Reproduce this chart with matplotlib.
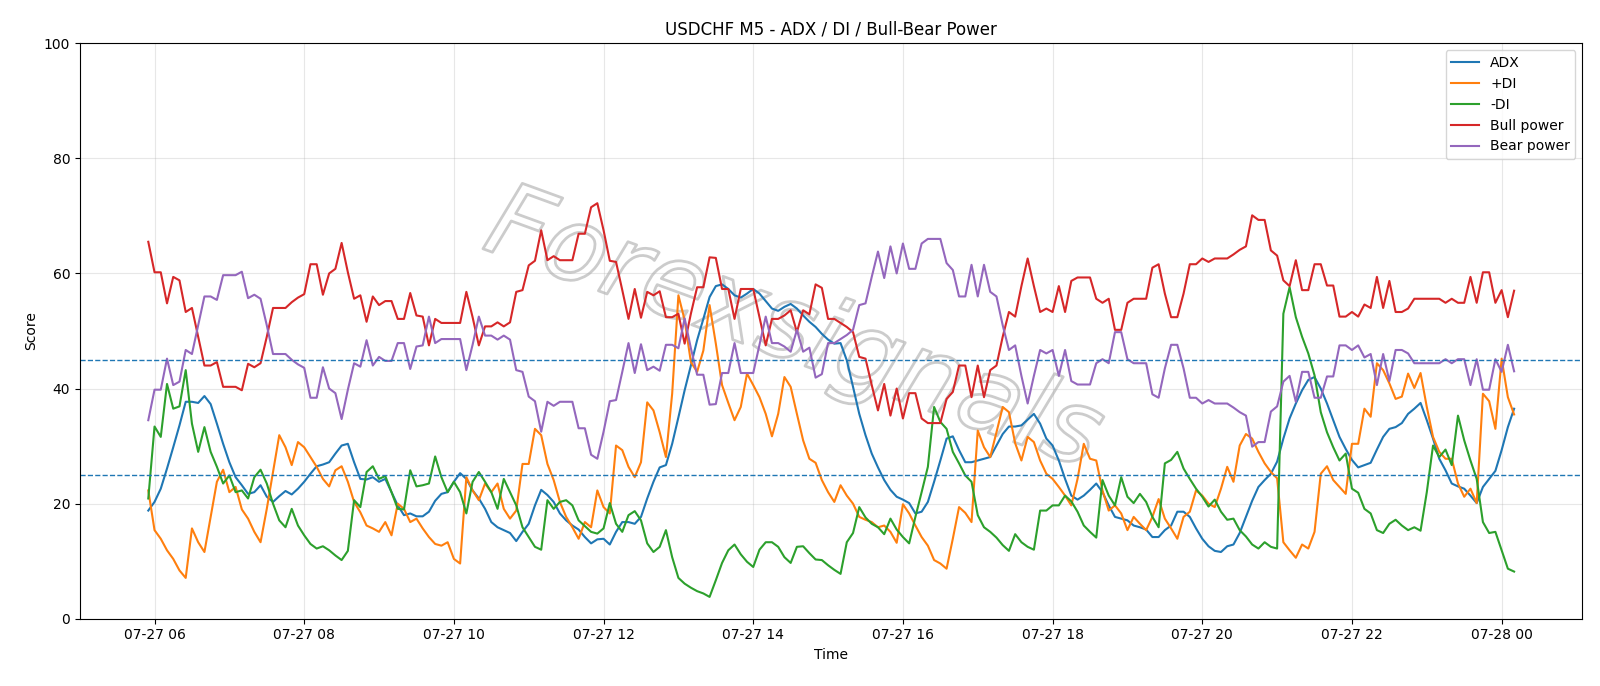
import pandas as pd
import matplotlib
matplotlib.use("Agg")
import matplotlib.pyplot as plt
import matplotlib.dates as mdates
import matplotlib.patheffects as pe

times = pd.date_range("2025-07-27 05:55", periods=220, freq="5min")

adx = [18.8, 20.3, 22.6, 26.1, 29.8, 33.6, 37.7, 37.7, 37.5, 38.7, 37.3, 33.9, 30.4, 27.2, 24.6, 23.2, 21.7, 22.0,
       23.2, 21.2, 20.3, 21.3, 22.2, 21.6, 22.6, 23.8, 25.2, 26.5, 26.8, 27.2, 28.7, 30.1, 30.4, 27.2, 24.3, 24.2,
       24.6, 23.8, 24.3, 22.0, 19.7, 18.0, 18.3, 17.8, 17.8, 18.6, 20.5, 21.7, 22.0, 23.8, 25.3, 24.3, 22.3, 20.9,
       19.1, 16.8, 15.9, 15.4, 14.9, 13.5, 15.1, 16.5, 19.7, 22.4, 21.5, 20.3, 18.3, 17.1, 16.2, 15.5, 14.2, 13.1,
       13.8, 13.9, 12.9, 15.1, 16.8, 16.8, 16.5, 17.7, 20.9, 23.8, 26.3, 26.7, 30.4, 35.0, 39.7, 44.0, 48.4, 52.1, 55.9,
       57.8, 58.1, 57.3, 56.2, 55.8, 56.5, 57.3, 56.5, 55.2, 53.9, 53.5, 54.2, 54.7, 53.9, 52.7, 51.6, 50.7, 49.5,
       48.5, 47.8, 47.9, 44.9, 40.3, 35.6, 31.9, 28.7, 26.3, 24.1, 22.4, 21.2, 20.7, 20.1, 18.3, 18.6, 20.3, 23.8,
       27.5, 31.3, 31.7, 29.3, 27.2, 27.2, 27.5, 27.8, 28.1, 30.1, 32.1, 33.4, 33.4, 33.6, 34.6, 35.6, 33.9, 31.3,
       30.1, 27.5, 24.3, 21.4, 20.7, 21.4, 22.4, 23.5, 22.0, 19.7, 17.7, 17.4, 17.1, 16.2, 15.9, 15.5, 14.2, 14.2, 15.4,
       16.2, 18.6, 18.6, 17.7, 15.7, 13.9, 12.6, 11.8, 11.6, 12.6, 12.9, 14.9, 17.7, 20.5, 22.9, 24.1, 25.2, 27.3,
       31.3, 34.8, 37.4, 39.7, 41.5, 42.0, 40.0, 37.4, 34.5, 31.6, 29.5, 27.6, 26.3, 26.7, 27.1, 29.4, 31.6, 33.0,
       33.3, 34.0, 35.6, 36.5, 37.5, 34.5, 31.3, 27.8, 25.8, 23.5, 23.0, 22.6, 21.4, 20.1, 22.9, 24.3, 25.7, 29.3, 33.3, 36.5]

plus_di = [22.3, 15.4, 13.9, 11.9, 10.4, 8.4, 7.1, 15.7, 13.3, 11.6, 17.7, 23.8, 25.9, 22.0, 22.9, 19.0, 17.4, 15.1,
           13.3, 19.1, 25.5, 31.9, 29.8, 26.7, 30.7, 29.8, 28.1, 26.4, 24.3, 23.0, 25.8, 26.5, 23.8, 20.3, 18.5, 16.2,
           15.7, 15.1, 16.8, 14.5, 20.0, 19.1, 16.8, 17.4, 15.7, 14.2, 13.0, 12.7, 13.3, 10.4, 9.6, 24.6, 22.3, 20.6,
           23.5, 22.0, 23.5, 19.1, 17.4, 18.8, 26.9, 26.9, 33.0, 31.9, 26.9, 24.1, 20.3, 17.7, 15.9, 13.9, 16.8, 15.9,
           22.3, 19.4, 18.3, 30.1, 29.3, 26.4, 24.6, 27.2, 37.6, 36.2, 32.4, 28.1, 39.1, 56.2, 51.9, 44.6, 42.9, 46.6, 54.5,
           47.8, 40.6, 37.5, 34.5, 36.8, 42.6, 40.6, 38.5, 35.6, 31.7, 35.6, 42.0, 40.3, 35.6, 31.0, 27.8, 27.1, 24.1,
           22.0, 20.3, 23.2, 21.4, 20.0, 17.7, 17.2, 16.8, 15.9, 16.2, 15.1, 13.2, 19.9, 18.3, 16.2, 14.2, 12.7, 10.2,
           9.6, 8.7, 13.9, 19.4, 18.4, 16.8, 32.7, 29.8, 28.1, 32.4, 36.8, 35.9, 30.5, 27.5, 31.6, 30.7, 27.5, 25.2,
           24.3, 22.9, 21.4, 19.7, 24.3, 30.4, 27.8, 27.5, 22.3, 18.8, 19.7, 18.3, 15.4, 17.7, 16.5, 15.4, 17.7, 20.8, 17.4,
           15.7, 13.9, 17.7, 18.6, 22.3, 21.4, 20.0, 19.4, 22.6, 26.4, 23.8, 30.1, 32.1, 31.3, 29.0, 27.0, 25.5, 24.4,
           13.3, 11.9, 10.6, 12.9, 12.2, 15.1, 25.2, 26.5, 24.1, 22.9, 21.7, 30.4, 30.4, 36.5, 35.1, 44.4, 43.2, 40.9,
           38.2, 38.6, 42.6, 40.1, 42.7, 36.8, 31.6, 29.0, 27.8, 27.8, 23.5, 21.2, 22.6, 20.1, 39.1, 37.8, 33.0, 45.2, 38.5, 35.5]

minus_di = [20.9, 33.4, 31.6, 40.8, 36.5, 36.9, 43.2, 33.9, 29.0, 33.3, 29.0, 26.4, 23.5, 24.9, 22.0, 22.3, 20.9, 24.6,
            25.9, 23.5, 20.0, 17.1, 15.9, 19.1, 16.2, 14.5, 13.0, 12.2, 12.6, 11.9, 11.0, 10.2, 11.8, 20.6, 19.4, 25.5,
            26.5, 24.3, 24.8, 22.0, 19.1, 19.0, 25.8, 23.0, 23.2, 23.5, 28.2, 24.6, 22.0, 23.8, 22.0, 18.3, 23.8, 25.5,
            23.8, 22.0, 19.1, 24.3, 22.0, 19.7, 15.9, 14.2, 12.5, 12.0, 20.6, 19.1, 20.3, 20.6, 19.7, 17.1, 16.1, 15.1,
            14.8, 15.7, 20.1, 16.5, 15.1, 18.0, 18.7, 17.1, 13.1, 11.6, 12.5, 15.4, 10.7, 7.1, 6.1, 5.4, 4.8, 4.4, 3.8,
            6.7, 9.7, 11.9, 12.9, 11.2, 9.9, 9.0, 12.0, 13.3, 13.3, 12.5, 10.7, 9.7, 12.5, 12.6, 11.4, 10.3, 10.2,
            9.3, 8.5, 7.8, 13.3, 14.9, 19.4, 17.6, 16.5, 15.9, 14.7, 17.4, 15.5, 14.2, 13.1, 17.7, 22.0, 26.4, 36.8,
            34.2, 33.0, 29.0, 27.0, 24.9, 23.8, 18.0, 15.9, 15.1, 14.1, 12.8, 11.8, 14.7, 13.3, 12.5, 12.0, 18.8, 18.8,
            19.7, 19.7, 21.4, 20.4, 18.6, 16.2, 15.1, 14.1, 24.1, 21.4, 19.7, 24.6, 21.2, 20.1, 21.7, 20.3, 17.7, 15.9, 27.0,
            27.6, 29.0, 26.1, 24.3, 22.6, 21.2, 19.5, 20.7, 18.6, 17.2, 17.4, 15.4, 14.3, 12.9, 12.2, 13.3, 12.5, 12.2,
            53.0, 57.6, 52.4, 49.0, 46.1, 42.3, 35.9, 32.4, 29.8, 27.5, 28.7, 22.6, 21.9, 19.1, 18.3, 15.4, 14.9, 16.5,
            17.2, 16.2, 15.4, 15.9, 15.3, 22.0, 30.1, 28.1, 29.4, 26.7, 35.3, 31.0, 27.5, 24.3, 16.8, 14.9, 15.1, 11.9, 8.7, 8.2]

bull = [65.5, 60.2, 60.2, 54.8, 59.4, 58.8, 53.3, 54.0, 49.0, 44.0, 44.0, 44.6, 40.3, 40.3, 40.3, 39.7, 44.3, 43.7,
        44.4, 49.0, 54.0, 54.0, 54.0, 55.0, 55.8, 56.4, 61.6, 61.6, 56.3, 60.0, 60.8, 65.3, 60.2, 55.6, 56.2, 51.6,
        56.0, 54.5, 55.2, 55.2, 52.1, 52.1, 56.6, 52.7, 52.5, 47.5, 52.1, 51.4, 51.4, 51.4, 51.4, 56.8, 52.4, 47.5,
        50.8, 50.8, 51.5, 50.8, 51.5, 56.8, 57.1, 61.4, 62.2, 67.5, 62.3, 63.0, 62.3, 62.3, 62.3, 66.9, 66.9, 71.5,
        72.2, 67.5, 62.2, 62.0, 57.1, 52.1, 57.3, 52.3, 56.8, 56.2, 56.9, 52.4, 52.4, 53.0, 47.8, 53.0, 57.6, 57.6, 62.8,
        62.7, 57.3, 57.3, 52.1, 57.3, 57.3, 57.3, 52.4, 47.5, 52.1, 52.1, 52.7, 53.6, 49.8, 53.6, 52.9, 58.1, 57.5,
        52.1, 52.1, 51.4, 50.7, 49.8, 45.5, 45.2, 40.6, 36.2, 40.8, 35.3, 40.0, 34.8, 39.2, 39.2, 34.8, 34.0, 34.0,
        34.0, 38.2, 39.4, 44.0, 44.0, 38.5, 44.0, 38.5, 43.2, 44.0, 49.0, 53.3, 52.5, 57.8, 62.6, 57.8, 53.3, 53.9,
        53.3, 57.8, 53.3, 58.7, 59.3, 59.3, 59.3, 55.6, 54.9, 55.6, 50.2, 50.2, 54.9, 55.6, 55.6, 55.6, 61.0, 61.6, 56.5,
        52.4, 52.4, 56.5, 61.6, 61.6, 62.6, 62.0, 62.6, 62.6, 62.6, 63.3, 64.1, 64.7, 70.1, 69.3, 69.3, 64.0, 63.1,
        58.8, 57.8, 62.3, 57.1, 57.1, 61.6, 61.6, 57.9, 57.9, 52.5, 52.5, 53.3, 52.5, 54.6, 54.0, 59.4, 54.0, 58.7,
        53.3, 53.3, 53.9, 55.6, 55.6, 55.6, 55.6, 55.6, 54.9, 55.6, 54.9, 54.9, 59.4, 54.9, 60.2, 60.2, 54.9, 57.1, 52.4, 57.0]

bear = [34.5, 39.8, 39.8, 45.2, 40.6, 41.2, 46.7, 46.0, 51.0, 56.0, 56.0, 55.4, 59.7, 59.7, 59.7, 60.3, 55.7, 56.3,
        55.6, 51.0, 46.0, 46.0, 46.0, 45.0, 44.2, 43.6, 38.4, 38.4, 43.7, 40.0, 39.2, 34.7, 39.8, 44.4, 43.8, 48.4,
        44.0, 45.5, 44.8, 44.8, 47.9, 47.9, 43.4, 47.3, 47.5, 52.5, 47.9, 48.6, 48.6, 48.6, 48.6, 43.2, 47.6, 52.5,
        49.2, 49.2, 48.5, 49.2, 48.5, 43.2, 42.9, 38.6, 37.8, 32.5, 37.7, 37.0, 37.7, 37.7, 37.7, 33.1, 33.1, 28.5,
        27.8, 32.5, 37.8, 38.0, 42.9, 47.9, 42.7, 47.7, 43.2, 43.8, 43.1, 47.6, 47.6, 47.0, 52.2, 47.0, 42.4, 42.4, 37.2,
        37.3, 42.7, 42.7, 47.9, 42.7, 42.7, 42.7, 47.6, 52.5, 47.9, 47.9, 47.3, 46.4, 50.2, 46.4, 47.1, 41.9, 42.5,
        47.9, 47.9, 48.6, 49.3, 50.2, 54.5, 54.8, 59.4, 63.8, 59.2, 64.7, 60.0, 65.2, 60.8, 60.8, 65.2, 66.0, 66.0,
        66.0, 61.8, 60.6, 56.0, 56.0, 61.5, 56.0, 61.5, 56.8, 56.0, 51.0, 46.7, 47.5, 42.2, 37.4, 42.2, 46.7, 46.1,
        46.7, 42.2, 46.7, 41.3, 40.7, 40.7, 40.7, 44.4, 45.1, 44.4, 49.8, 49.8, 45.1, 44.4, 44.4, 44.4, 39.0, 38.4, 43.5,
        47.6, 47.6, 43.5, 38.4, 38.4, 37.4, 38.0, 37.4, 37.4, 37.4, 36.7, 35.9, 35.3, 29.9, 30.7, 30.7, 36.0, 36.9,
        41.2, 42.2, 37.7, 42.9, 42.9, 38.4, 38.4, 42.1, 42.1, 47.5, 47.5, 46.7, 47.5, 45.4, 46.0, 40.6, 46.0, 41.3,
        46.7, 46.7, 46.1, 44.4, 44.4, 44.4, 44.4, 44.4, 45.1, 44.4, 45.1, 45.1, 40.6, 45.1, 39.8, 39.8, 45.1, 42.9, 47.6, 43.0]

fig, ax = plt.subplots(figsize=(16, 6.86), dpi=100)
fig.subplots_adjust(left=0.05, right=0.989, top=0.937, bottom=0.098)

ax.plot(times, adx, label="ADX")
ax.plot(times, plus_di, label="+DI")
ax.plot(times, minus_di, label="-DI")
ax.plot(times, bull, label="Bull power")
ax.plot(times, bear, label="Bear power")

ax.axhline(25, linestyle="--", linewidth=1)
ax.axhline(45, linestyle="--", linewidth=1)

# watermark
ax.text(0.475, 0.50, "Forexsignals", transform=ax.transAxes, fontsize=74,
        style="italic", rotation=-20, ha="center", va="center",
        color=(1, 1, 1, 0), zorder=1,
        path_effects=[pe.withStroke(linewidth=2, foreground="#cccccc")])

ax.set_ylim(0, 100)
ax.set_title("USDCHF M5 - ADX / DI / Bull-Bear Power")
ax.set_xlabel("Time")
ax.set_ylabel("Score")
ax.xaxis.set_major_locator(mdates.HourLocator(interval=2))
ax.xaxis.set_major_formatter(mdates.DateFormatter("%m-%d %H"))
ax.grid(True, alpha=0.3)
ax.legend(loc="upper right")

fig.savefig("out.png")
